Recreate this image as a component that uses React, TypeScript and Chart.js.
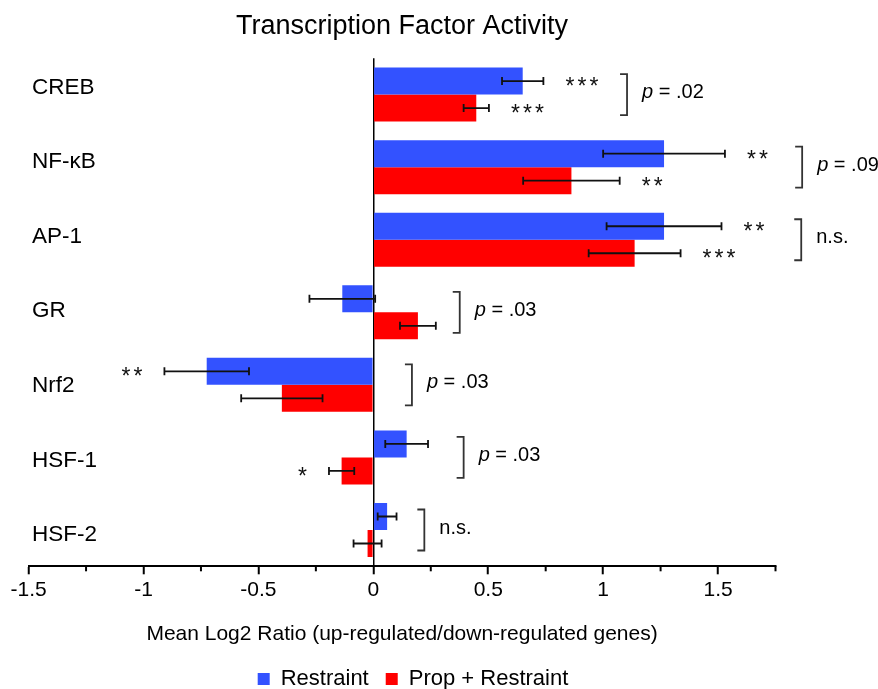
import React, { useEffect, useRef } from 'react';
import { Chart, registerables } from 'chart.js';

Chart.register(...registerables);

const categories = ['CREB', 'NF-κB', 'AP-1', 'GR', 'Nrf2', 'HSF-1', 'HSF-2'];
const seriesNames = ['Restraint', 'Prop + Restraint'];
const restraint = [0.65, 1.265, 1.265, -0.135, -0.725, 0.145, 0.06];
const restraintErr = [0.09, 0.265, 0.25, 0.143, 0.184, 0.093, 0.041];
const propRestraint = [0.448, 0.862, 1.137, 0.194, -0.398, -0.138, -0.025];
const propRestraintErr = [0.055, 0.21, 0.2, 0.078, 0.177, 0.055, 0.061];
const restraintStars = ['***', '**', '**', '', '**', '', ''];
const propRestraintStars = ['***', '**', '***', '', '', '*', ''];
const comparisonLabels = ['p = .02', 'p = .09', 'n.s.', 'p = .03', 'p = .03', 'p = .03', 'n.s.'];
// bracket positions, in x-axis units
const bracketAt = [1.104, 1.866, 1.862, 0.376, 0.168, 0.393, 0.222];
const xTickLabels = ['-1.5', '-1', '-0.5', '0', '0.5', '1', '1.5'];

const FONT = "'Liberation Sans', Arial, Helvetica, sans-serif";
const BLUE = '#3352FF';
const RED = '#FF0000';
const LABEL_MIN = -0.391;
const LABEL_MAX = 6.418;

const annotatePlugin = {
  id: 'annotate',
  afterDatasetsDraw(chart: any) {
    const ctx = chart.ctx;
    const xs = chart.scales.x;
    const ys = chart.scales.y;
    chart.data.datasets.forEach((ds: any, d: number) => {
      const meta = chart.getDatasetMeta(d);
      meta.data.forEach((bar: any, i: number) => {
        const v = ds.data[i];
        const e = ds.errors[i];
        const x1 = xs.getPixelForValue(v - e);
        const x2 = xs.getPixelForValue(v + e);
        const y = bar.y;
        ctx.save();
        ctx.strokeStyle = '#111';
        ctx.lineWidth = 1.8;
        ctx.beginPath();
        ctx.moveTo(x1, y);
        ctx.lineTo(x2, y);
        ctx.moveTo(x1, y - 4);
        ctx.lineTo(x1, y + 4);
        ctx.moveTo(x2, y - 4);
        ctx.lineTo(x2, y + 4);
        ctx.stroke();
        const s: string = ds.stars[i];
        if (s) {
          const size = 23;
          ctx.fillStyle = '#111';
          ctx.font = `${size}px ${FONT}`;
          ctx.textBaseline = 'alphabetic';
          ctx.textAlign = 'left';
          const pitch = 12;
          const w = ctx.measureText('*').width;
          const total = (s.length - 1) * pitch + w;
          const start = v >= 0 ? x2 + 22 : x1 - 22 - total;
          for (let k = 0; k < s.length; k++) {
            ctx.fillText('*', start + k * pitch, y + 0.56 * size);
          }
        }
        ctx.restore();
      });
    });
    categories.forEach((_, i) => {
      const cy = ys.getPixelForValue(i);
      const bx = xs.getPixelForValue(bracketAt[i]);
      ctx.save();
      ctx.strokeStyle = '#333';
      ctx.lineWidth = 1.8;
      ctx.beginPath();
      ctx.moveTo(bx - 7, cy - 20.5);
      ctx.lineTo(bx, cy - 20.5);
      ctx.lineTo(bx, cy + 20.5);
      ctx.lineTo(bx - 7, cy + 20.5);
      ctx.stroke();
      const label = comparisonLabels[i];
      ctx.fillStyle = '#000';
      ctx.textBaseline = 'middle';
      ctx.textAlign = 'left';
      let tx = bx + 15;
      const ty = cy - 2;
      let rest = label;
      if (label.startsWith('p')) {
        ctx.font = `italic 20px ${FONT}`;
        ctx.fillText('p', tx, ty);
        tx += ctx.measureText('p').width;
        rest = label.slice(1);
      }
      ctx.font = `20px ${FONT}`;
      ctx.fillText(rest, tx, ty);
      ctx.restore();
    });
  },
  afterDraw(chart: any) {
    const ctx = chart.ctx;
    const xs = chart.scales.x;
    ctx.save();
    ctx.strokeStyle = '#000';
    ctx.lineWidth = 2;
    xs.ticks.forEach((t: any) => {
      const q = Math.round(t.value * 4);
      if (q % 2 !== 0) {
        const px = xs.getPixelForValue(t.value);
        ctx.beginPath();
        ctx.moveTo(px, xs.top);
        ctx.lineTo(px, xs.top + 5);
        ctx.stroke();
      }
    });
    ctx.restore();
  },
};

export default function App() {
  const ref = useRef<HTMLCanvasElement | null>(null);
  useEffect(() => {
    document.body.style.margin = '0';
    if (!ref.current) return;
    Chart.defaults.font.family = FONT;
    Chart.defaults.color = '#000';
    const isMajor = (v: number) => Math.round(v * 4) % 2 === 0 && v <= 1.5 + 1e-9;
    const chart = new Chart(ref.current, {
      type: 'bar',
      data: {
        labels: categories,
        datasets: [
          {
            label: seriesNames[0],
            data: restraint,
            errors: restraintErr,
            stars: restraintStars,
            backgroundColor: BLUE,
            borderWidth: 0,
            xAxisID: 'x',
            yAxisID: 'y',
          } as any,
          {
            label: seriesNames[1],
            data: propRestraint,
            errors: propRestraintErr,
            stars: propRestraintStars,
            backgroundColor: RED,
            borderWidth: 0,
            xAxisID: 'x',
            yAxisID: 'y',
          } as any,
        ],
      },
      options: {
        indexAxis: 'y',
        animation: false,
        responsive: false,
        datasets: { bar: { categoryPercentage: 0.744, barPercentage: 1.0 } },
        layout: { padding: { left: 28.6, right: 80.6, top: 0, bottom: 0 } },
        plugins: {
          title: {
            display: true,
            text: 'Transcription Factor Activity',
            font: { size: 27, weight: 'normal' },
            color: '#000',
            padding: { top: 10, bottom: 15.9 },
            fullSize: false,
          },
          legend: {
            position: 'bottom',
            maxHeight: 38,
            labels: { boxWidth: 12, boxHeight: 12, padding: 17, font: { size: 22 }, color: '#000' },
          },
          tooltip: { enabled: false },
        },
        scales: {
          x: {
            type: 'linear',
            position: 'bottom',
            min: -1.5,
            max: 1.75,
            z: 1,
            ticks: {
              stepSize: 0.25,
              autoSkip: false,
              maxRotation: 0,
              padding: 3,
              font: { size: 21 },
              color: '#000',
              callback: (v: any) => {
                const n = Number(v);
                if (!isMajor(n)) return '';
                const idx = Math.round((n + 1.5) * 2);
                return xTickLabels[idx] ?? '';
              },
            },
            grid: {
              drawOnChartArea: true,
              color: (c: any) => (c.tick && Math.abs(c.tick.value) < 1e-9 ? '#000' : 'rgba(0,0,0,0)'),
              lineWidth: 1.5,
              tickColor: (c: any) => (c.tick && isMajor(c.tick.value) ? '#000' : 'rgba(0,0,0,0)'),
              tickLength: 8,
              tickWidth: 2,
            },
            border: { display: true, color: '#000', width: 2 },
            title: {
              display: true,
              text: 'Mean Log2 Ratio (up-regulated/down-regulated genes)',
              font: { size: 21 },
              color: '#000',
              padding: { top: 15.9, bottom: 4.4 },
            },
          },
          y: {
            type: 'category',
            display: false,
          },
          y2: {
            type: 'linear',
            position: 'left',
            reverse: true,
            offset: false,
            bounds: 'data',
            min: LABEL_MIN,
            max: LABEL_MAX,
            grid: { display: false, drawTicks: false, offset: false },
            border: { display: false },
            afterBuildTicks: (s: any) => {
              s.ticks = categories.map((_, i) => ({ value: i }));
            },
            afterFit: (s: any) => {
              s.width = 0;
            },
            ticks: {
              mirror: true,
              padding: 3.4,
              autoSkip: false,
              crossAlign: 'near',
              font: { size: 22.5 },
              color: '#000',
              callback: (v: any) => categories[Number(v)] ?? '',
            },
          },
          yR: {
            type: 'linear',
            position: 'right',
            display: true,
            offset: false,
            ticks: { display: false },
            grid: { display: false, drawTicks: false },
            border: { display: false },
            afterFit: (s: any) => {
              s.width = 21.9;
            },
          },
        },
      } as any,
      plugins: [annotatePlugin],
    });
    return () => chart.destroy();
  }, []);
  return (
    <div style={{ width: 878, height: 689 }}>
      <canvas ref={ref} width={878} height={689} />
    </div>
  );
}
